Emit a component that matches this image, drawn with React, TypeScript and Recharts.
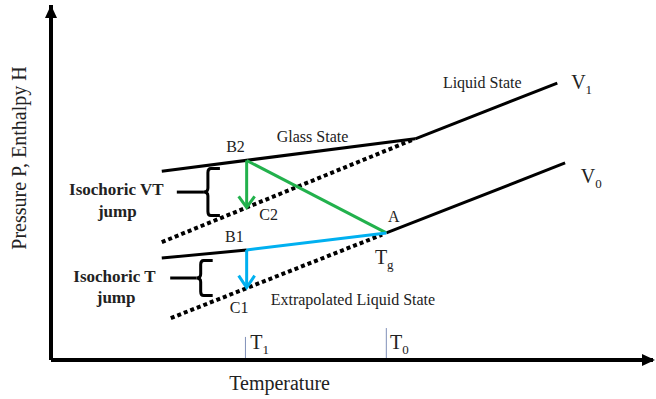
import React from 'react';
import {
  ComposedChart,
  Line,
  XAxis,
  YAxis,
  ReferenceDot,
} from 'recharts';

// schematic coordinates: temperature 0-100 across, pressure/enthalpy 0-100 up
const glassUpper = [{ x: 18.4, y: 53.2 }, { x: 60.5, y: 62.3 }];
const liquidV1 = [{ x: 60.5, y: 62.3 }, { x: 84.1, y: 78.0 }];
const glassLower = [{ x: 18.4, y: 28.7 }, { x: 32.5, y: 31.0 }];
const liquidV0 = [{ x: 55.7, y: 35.8 }, { x: 85.4, y: 55.5 }];
const extrapUpper = [{ x: 18.4, y: 33.2 }, { x: 60.3, y: 62.2 }];
const extrapLower = [{ x: 19.9, y: 11.8 }, { x: 55.0, y: 35.3 }];
const greenPath = [{ x: 55.7, y: 35.8 }, { x: 32.5, y: 56.2 }];
const greenDrop = [{ x: 32.5, y: 56.2 }, { x: 32.5, y: 43.0 }];
const bluePath = [{ x: 32.5, y: 31.0 }, { x: 55.7, y: 35.8 }];
const blueDrop = [{ x: 32.5, y: 31.0 }, { x: 32.5, y: 20.4 }];
const tickT1 = [{ x: 32.3, y: 0 }, { x: 32.3, y: 6.5 }];
const tickT0 = [{ x: 55.7, y: 0 }, { x: 55.7, y: 9.0 }];
const braceVTLead = [{ x: 20.9, y: 47.3 }, { x: 25.4, y: 47.3 }];
const braceTLead = [{ x: 19.8, y: 23.1 }, { x: 24.2, y: 23.1 }];

const plainLabels = [
  { text: 'Liquid State', x: 65.1, y: 76.6 },
  { text: 'Glass State', x: 37.5, y: 61.4 },
  { text: 'B2', x: 29.1, y: 58.6 },
  { text: 'C2', x: 34.6, y: 39.4 },
  { text: 'A', x: 56.0, y: 38.9 },
  { text: 'B1', x: 28.9, y: 33.2 },
  { text: 'C1', x: 29.7, y: 13.2 },
  { text: 'Extrapolated Liquid State', x: 36.5, y: 15.5 },
];
const boldLabels = [
  { text: 'Isochoric VT', x: 3.0, y: 46.5 },
  { text: 'jump', x: 7.8, y: 40.3 },
  { text: 'Isochoric T', x: 3.7, y: 22.0 },
  { text: 'jump', x: 7.6, y: 16.1 },
];
const subLabels = [
  { main: 'T', sub: 'g', x: 53.8, y: 27.0 },
  { main: 'T', sub: '1', x: 33.1, y: 3.1 },
  { main: 'T', sub: '0', x: 56.3, y: 3.1 },
  { main: 'V', sub: '1', x: 86.4, y: 76.3 },
  { main: 'V', sub: '0', x: 88.0, y: 49.9 },
];
const braces = [
  { x: 25.4, y: 47.3, half: 23.5 },
  { x: 24.2, y: 23.1, half: 17.5 },
];

const BLACK = '#000';
const GREEN = '#22b14c';
const BLUE = '#00b0f0';

const arrowTip = (color: string, len: number) => (props: any) => {
  const { cx, cy, index } = props;
  if (index !== 1 || cx == null) return <g key={`d${index}`} />;
  return (
    <path
      key={`d${index}`}
      d={`M${cx - 8},${cy - len} L${cx},${cy} L${cx + 8},${cy - len}`}
      fill="none"
      stroke={color}
      strokeWidth={3}
    />
  );
};

export default function App() {
  return (
    <div style={{ position: 'absolute', left: 0, top: 0, fontFamily: '"Liberation Serif", serif' }}>
      <ComposedChart
        width={656}
        height={399}
        margin={{ top: 5, right: 3, bottom: 0, left: 0 }}
      >
        <XAxis
          type="number"
          dataKey="x"
          domain={[0, 100]}
          height={39}
          tick={false}
          tickLine={false}
          axisLine={{ stroke: BLACK, strokeWidth: 4 }}
        />
        <YAxis
          type="number"
          dataKey="y"
          domain={[0, 100]}
          width={51}
          tick={false}
          tickLine={false}
          axisLine={{ stroke: BLACK, strokeWidth: 4 }}
        />

        <Line data={tickT1} dataKey="y" stroke="#8090b8" strokeWidth={1} dot={false} isAnimationActive={false} />
        <Line data={tickT0} dataKey="y" stroke="#8090b8" strokeWidth={1} dot={false} isAnimationActive={false} />

        <Line data={extrapUpper} dataKey="y" stroke={BLACK} strokeWidth={4} strokeDasharray="4 3" dot={false} isAnimationActive={false} />
        <Line data={extrapLower} dataKey="y" stroke={BLACK} strokeWidth={4} strokeDasharray="4 3" dot={false} isAnimationActive={false} />

        <Line data={glassUpper} dataKey="y" stroke={BLACK} strokeWidth={3} dot={false} isAnimationActive={false} />
        <Line data={liquidV1} dataKey="y" stroke={BLACK} strokeWidth={3} dot={false} isAnimationActive={false} />
        <Line data={glassLower} dataKey="y" stroke={BLACK} strokeWidth={3} dot={false} isAnimationActive={false} />
        <Line data={liquidV0} dataKey="y" stroke={BLACK} strokeWidth={3} dot={false} isAnimationActive={false} />

        <Line data={greenPath} dataKey="y" stroke={GREEN} strokeWidth={3} dot={false} isAnimationActive={false} />
        <Line data={greenDrop} dataKey="y" stroke={GREEN} strokeWidth={3} dot={arrowTip(GREEN, 11)} isAnimationActive={false} />
        <Line data={bluePath} dataKey="y" stroke={BLUE} strokeWidth={3} dot={false} isAnimationActive={false} />
        <Line data={blueDrop} dataKey="y" stroke={BLUE} strokeWidth={3} dot={arrowTip(BLUE, 12)} isAnimationActive={false} />

        <Line data={braceVTLead} dataKey="y" stroke={BLACK} strokeWidth={3} dot={false} isAnimationActive={false} />
        <Line data={braceTLead} dataKey="y" stroke={BLACK} strokeWidth={3} dot={false} isAnimationActive={false} />

        {braces.map((b, i) => (
          <ReferenceDot
            key={`b${i}`}
            x={b.x}
            y={b.y}
            ifOverflow="visible"
            shape={(p: any) => {
              const { cx, cy } = p;
              const h = b.half;
              const bx = cx + 4;
              const hook = cx + 16;
              return (
                <path
                  d={`M${hook},${cy - h} L${bx + 3},${cy - h} Q${bx},${cy - h} ${bx},${cy - h + 4} L${bx},${cy - 4} Q${bx},${cy} ${cx},${cy} Q${bx},${cy} ${bx},${cy + 4} L${bx},${cy + h - 4} Q${bx},${cy + h} ${bx + 3},${cy + h} L${hook},${cy + h}`}
                  fill="none"
                  stroke={BLACK}
                  strokeWidth={3}
                />
              );
            }}
          />
        ))}

        <ReferenceDot
          x={100}
          y={0}
          ifOverflow="visible"
          shape={(p: any) => (
            <path d={`M${p.cx + 2},${p.cy} L${p.cx - 11},${p.cy - 6} L${p.cx - 11},${p.cy + 6} Z`} fill={BLACK} />
          )}
        />
        <ReferenceDot
          x={0}
          y={100}
          ifOverflow="visible"
          shape={(p: any) => (
            <path d={`M${p.cx},${p.cy} L${p.cx - 6},${p.cy + 13} L${p.cx + 6},${p.cy + 13} Z`} fill={BLACK} />
          )}
        />

        {plainLabels.map((l, i) => (
          <ReferenceDot
            key={`p${i}`}
            x={l.x}
            y={l.y}
            ifOverflow="visible"
            shape={(p: any) => (
              <text x={p.cx} y={p.cy} fontSize={16} fill="#222" fontFamily='"Liberation Serif", serif'>
                {l.text}
              </text>
            )}
          />
        ))}
        {boldLabels.map((l, i) => (
          <ReferenceDot
            key={`bl${i}`}
            x={l.x}
            y={l.y}
            ifOverflow="visible"
            shape={(p: any) => (
              <text x={p.cx} y={p.cy} fontSize={17} fontWeight="bold" fill="#222" fontFamily='"Liberation Serif", serif'>
                {l.text}
              </text>
            )}
          />
        ))}
        {subLabels.map((l, i) => (
          <ReferenceDot
            key={`s${i}`}
            x={l.x}
            y={l.y}
            ifOverflow="visible"
            shape={(p: any) => (
              <text x={p.cx} y={p.cy} fontSize={20} fill="#222" fontFamily='"Liberation Serif", serif'>
                {l.main}
                <tspan fontSize={13} dy={5}>{l.sub}</tspan>
              </text>
            )}
          />
        ))}

        <ReferenceDot
          x={29.6}
          y={-8.5}
          ifOverflow="visible"
          shape={(p: any) => (
            <text x={p.cx} y={p.cy} fontSize={20} fill="#222" fontFamily='"Liberation Serif", serif'>
              Temperature
            </text>
          )}
        />
        <ReferenceDot
          x={-4.2}
          y={56.9}
          ifOverflow="visible"
          shape={(p: any) => (
            <text
              x={p.cx}
              y={p.cy}
              fontSize={20}
              fill="#222"
              textAnchor="middle"
              transform={`rotate(-90 ${p.cx} ${p.cy})`}
              fontFamily='"Liberation Serif", serif'
            >
              Pressure P, Enthalpy H
            </text>
          )}
        />
      </ComposedChart>
    </div>
  );
}
